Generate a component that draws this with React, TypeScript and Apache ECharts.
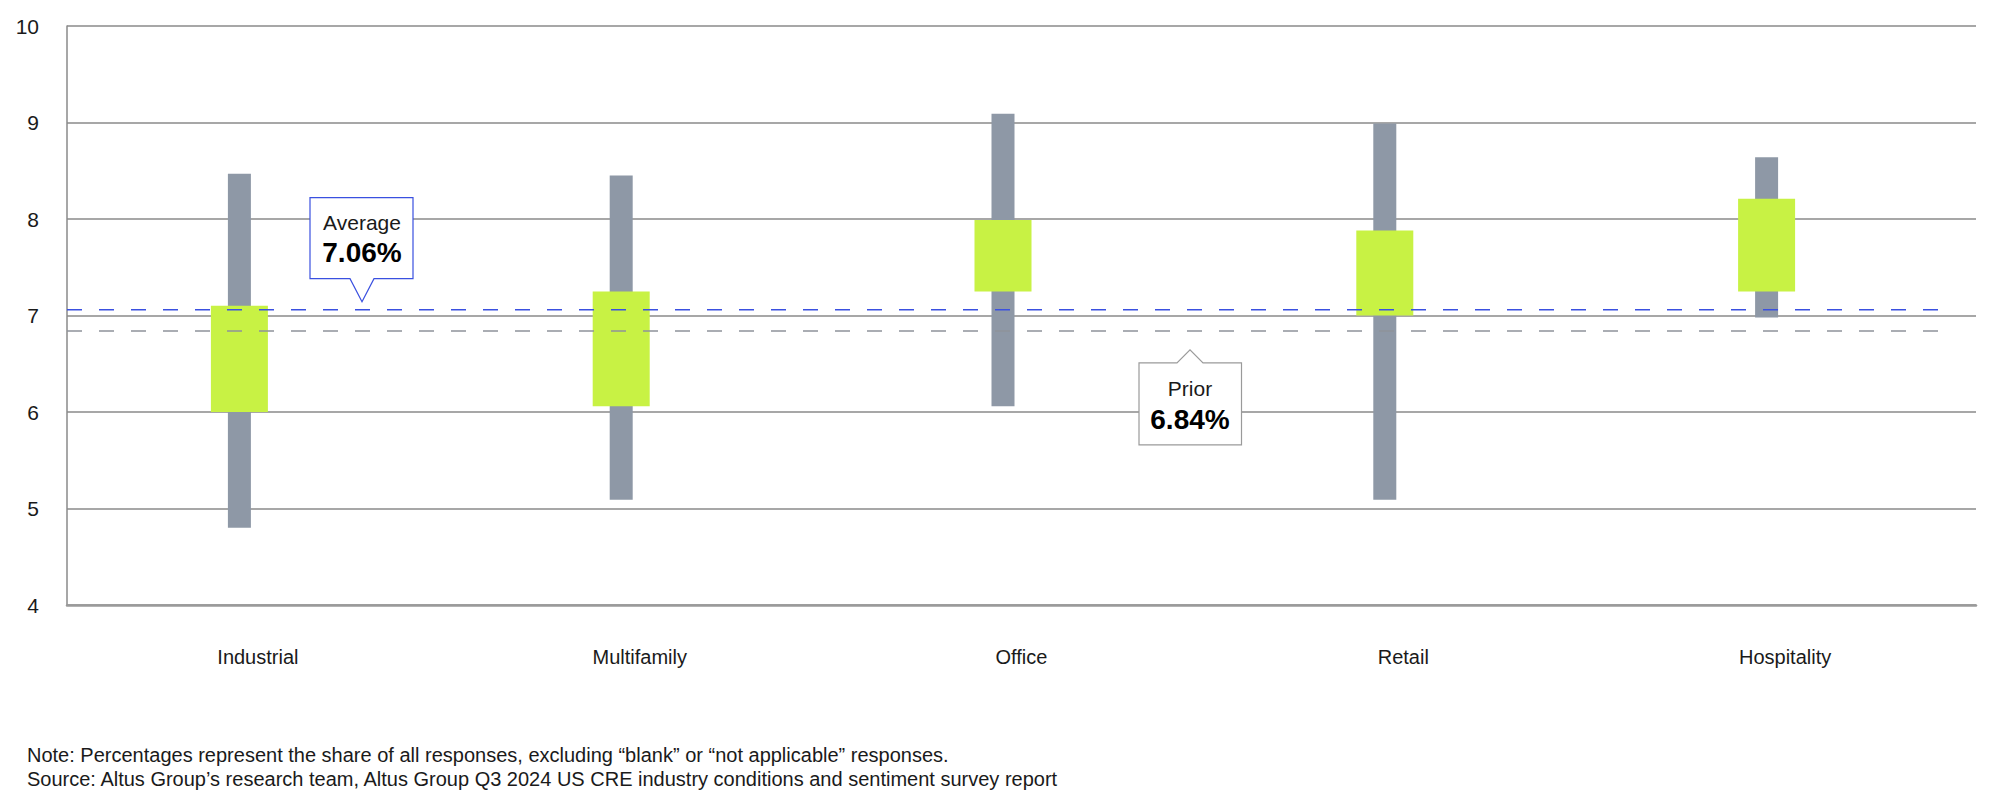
import React, { useEffect, useRef } from 'react';
import * as echarts from 'echarts';

// ---- Data ----
const categories = ['Industrial', 'Multifamily', 'Office', 'Retail', 'Hospitality'];
const rangeLow = [4.8, 5.09, 6.06, 5.09, 6.98];
const boxLow = [6.0, 6.06, 7.25, 7.0, 7.25];
const boxHigh = [7.1, 7.25, 7.99, 7.88, 8.21];
const rangeHigh = [8.47, 8.45, 9.09, 8.99, 8.64];
const yTicks = [4, 5, 6, 7, 8, 9, 10];
const averageLabel = 'Average';
const averageValue = 7.06;
const priorLabel = 'Prior';
const priorValue = 6.84;
const noteLines = [
  'Note: Percentages represent the share of all responses, excluding \u201cblank\u201d or \u201cnot applicable\u201d responses.',
  'Source: Altus Group\u2019s research team, Altus Group Q3 2024 US CRE industry conditions and sentiment survey report',
];

const FONT = '"Liberation Sans", Arial, sans-serif';
const TEXT = '#1a1a1a';
const GRAY_BAR = '#8e98a6';
const GREEN = '#c8f244';
const BLUE = '#3a50e0';
const GRAY_DASH = '#8f939b';

export default function App() {
  const ref = useRef<HTMLDivElement>(null);

  useEffect(() => {
    if (!ref.current) return;
    const chart = echarts.init(ref.current, undefined, { renderer: 'svg' });

    const boxData = categories.map((_, i) => [i, rangeLow[i], boxLow[i], boxHigh[i], rangeHigh[i]]);
    const lineEnd = 0.989;

    const option: any = {
      animation: false,
      backgroundColor: '#ffffff',
      textStyle: { fontFamily: FONT },
      grid: { left: 67, right: 32, top: 26, bottom: 200, containLabel: false },
      xAxis: [
        {
          type: 'category',
          data: categories,
          boundaryGap: true,
          axisLine: { show: true, lineStyle: { color: '#9a9a9a', width: 2.5 } },
          axisTick: { show: false },
          axisLabel: { color: TEXT, fontSize: 20, fontFamily: FONT, margin: 42 },
          splitLine: { show: false },
        },
        { type: 'value', min: 0, max: 1, show: false },
      ],
      yAxis: {
        type: 'value',
        min: yTicks[0],
        max: yTicks[yTicks.length - 1],
        interval: 1,
        axisLine: { show: true, lineStyle: { color: '#8a8a8a', width: 1.5 } },
        axisTick: { show: false },
        axisLabel: { color: TEXT, fontSize: 21, fontFamily: FONT, margin: 28 },
        splitLine: { show: true, lineStyle: { color: '#8a8a8a', width: 1.5 } },
      },
      series: [
        {
          type: 'custom',
          xAxisIndex: 0,
          z: 2,
          data: boxData,
          encode: { x: 0, y: [1, 2, 3, 4] },
          renderItem: (params: any, api: any) => {
            const idx = api.value(0);
            const pLo = api.coord([idx, api.value(1)]);
            const pQ1 = api.coord([idx, api.value(2)]);
            const pQ3 = api.coord([idx, api.value(3)]);
            const pHi = api.coord([idx, api.value(4)]);
            const cx = pLo[0] - 18.5;
            return {
              type: 'group',
              children: [
                {
                  type: 'rect',
                  shape: { x: cx - 11.5, y: pHi[1], width: 23, height: pLo[1] - pHi[1] },
                  style: { fill: GRAY_BAR },
                },
                {
                  type: 'rect',
                  shape: { x: cx - 28.5, y: pQ3[1], width: 57, height: pQ1[1] - pQ3[1] },
                  style: { fill: GREEN },
                },
              ],
            };
          },
        },
        {
          type: 'line',
          xAxisIndex: 1,
          z: 5,
          symbol: 'none',
          data: [[0, averageValue], [lineEnd, averageValue]],
          lineStyle: { color: BLUE, width: 1.5, type: [15, 17] },
        },
        {
          type: 'line',
          xAxisIndex: 1,
          z: 5,
          symbol: 'none',
          data: [[0, priorValue], [lineEnd, priorValue]],
          lineStyle: { color: GRAY_DASH, width: 1.5, type: [15, 17] },
        },
      ],
    };

    chart.setOption(option);

    const yAvg = chart.convertToPixel({ yAxisIndex: 0 }, averageValue) as number;
    const yPrior = chart.convertToPixel({ yAxisIndex: 0 }, priorValue) as number;

    const graphic: any[] = [
      {
        type: 'group',
        x: 362,
        y: yAvg - 8,
        z: 10,
        children: [
          {
            type: 'polygon',
            shape: {
              points: [[-52, -104], [51, -104], [51, -23], [12, -23], [0, 0], [-12, -23], [-52, -23]],
            },
            style: { fill: '#ffffff', stroke: BLUE, lineWidth: 1.2 },
          },
          {
            type: 'text',
            x: 0,
            y: -79,
            style: {
              text: averageLabel,
              fontSize: 21,
              fontFamily: FONT,
              fill: TEXT,
              align: 'center',
              verticalAlign: 'middle',
            },
          },
          {
            type: 'text',
            x: 0,
            y: -49,
            style: {
              text: `${averageValue.toFixed(2)}%`,
              fontSize: 28,
              fontWeight: 'bold',
              fontFamily: FONT,
              fill: '#000000',
              align: 'center',
              verticalAlign: 'middle',
            },
          },
        ],
      },
      {
        type: 'group',
        x: 1190,
        y: yPrior + 19,
        z: 10,
        children: [
          {
            type: 'polygon',
            shape: {
              points: [[-51, 13], [-13, 13], [0, 0], [13, 13], [51.5, 13], [51.5, 95], [-51, 95]],
            },
            style: { fill: '#ffffff', stroke: '#9a9a9a', lineWidth: 1.2 },
          },
          {
            type: 'text',
            x: 0,
            y: 39,
            style: {
              text: priorLabel,
              fontSize: 21,
              fontFamily: FONT,
              fill: TEXT,
              align: 'center',
              verticalAlign: 'middle',
            },
          },
          {
            type: 'text',
            x: 0,
            y: 69.5,
            style: {
              text: `${priorValue.toFixed(2)}%`,
              fontSize: 28,
              fontWeight: 'bold',
              fontFamily: FONT,
              fill: '#000000',
              align: 'center',
              verticalAlign: 'middle',
            },
          },
        ],
      },
      ...noteLines.map((t, i) => ({
        type: 'text',
        left: 27,
        top: 745 + i * 24,
        style: {
          text: t,
          fontSize: 20,
          fontFamily: FONT,
          fill: TEXT,
        },
      })),
    ];

    chart.setOption({ graphic });

    return () => {
      chart.dispose();
    };
  }, []);

  return (
    <div
      ref={ref}
      style={{ position: 'fixed', left: 0, top: 0, width: 2008, height: 805, background: '#ffffff' }}
    />
  );
}
